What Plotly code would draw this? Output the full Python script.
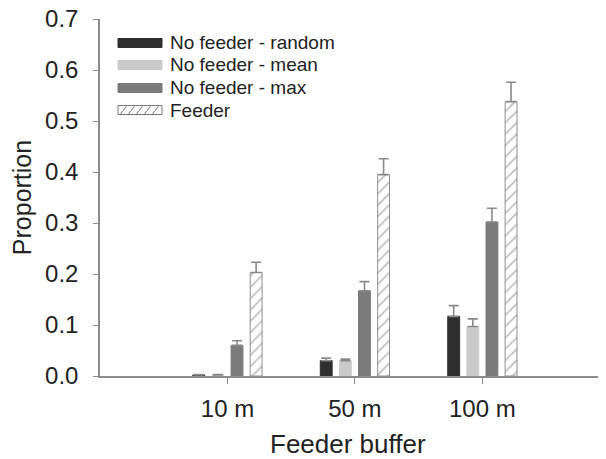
import plotly.graph_objects as go

categories = ["10 m", "50 m", "100 m"]
series_names = ["No feeder - random", "No feeder - mean", "No feeder - max", "Feeder"]
random_vals = [0.002, 0.030, 0.117]
random_err = [0.001, 0.005, 0.021]
mean_vals = [0.002, 0.030, 0.097]
mean_err = [0.001, 0.003, 0.015]
max_vals = [0.060, 0.167, 0.302]
max_err = [0.009, 0.018, 0.027]
feeder_vals = [0.203, 0.395, 0.538]
feeder_err = [0.020, 0.031, 0.038]
y_ticks = [0.0, 0.1, 0.2, 0.3, 0.4, 0.5, 0.6, 0.7]

# The page body adds an 8px offset, so the figure is drawn 8px smaller
OFF = 8
W, H = 606 - OFF, 459 - OFF
L, R, T, B = 100 - OFF, 0, 19 - OFF, 83
PW, PH = W - L - R, H - T - B

FONT = "Liberation Sans, Arial, sans-serif"
TXT = "#222222"
AX = "#8c8c8c"
ERR = "#8a8a8a"

fills = ["#2e2e2e", "#cacaca", "#7b7b7b", "white"]
values = [random_vals, mean_vals, max_vals, feeder_vals]
errs = [random_err, mean_err, max_err, feeder_err]

fig = go.Figure()
xs = list(range(len(categories)))
for i, name in enumerate(series_names):
    marker = dict(color=fills[i], line=dict(color=fills[i] if i < 3 else "#8f8f8f", width=1))
    if i == 3:
        marker["pattern"] = dict(shape="/", fgcolor="#7a7a7a", bgcolor="white", size=8, solidity=0.2)
    fig.add_trace(go.Bar(
        x=xs, y=values[i], name=name, marker=marker, showlegend=False,
        error_y=dict(type="data", array=errs[i], arrayminus=[0] * len(errs[i]), symmetric=False,
                     color=ERR, thickness=1.6, width=5),
    ))

def px2x(px):
    return (px - OFF - L) / PW

def py2y(py):
    return (H - B - (py - OFF)) / PH

shapes = []
annotations = []
row_y = [43, 65, 88, 110]
sx0, sx1 = 118, 162
for i, name in enumerate(series_names):
    cy = row_y[i]
    y0, y1 = cy - 4.5, cy + 4.5
    if i < 3:
        shapes.append(dict(type="rect", xref="paper", yref="paper",
                           x0=px2x(sx0), x1=px2x(sx1), y0=py2y(y1), y1=py2y(y0),
                           fillcolor=fills[i], line=dict(color=fills[i], width=1)))
    else:
        shapes.append(dict(type="rect", xref="paper", yref="paper",
                           x0=px2x(sx0), x1=px2x(sx1), y0=py2y(y1), y1=py2y(y0),
                           fillcolor="white", line=dict(color="#7a7a7a", width=1)))
        path = ""
        for k in range(6):
            xa = sx0 + 2 + k * 8
            xb = xa + 7
            if xb > sx1:
                break
            path += f"M{px2x(xa)},{py2y(y1)} L{px2x(xb)},{py2y(y0)} "
        shapes.append(dict(type="path", xref="paper", yref="paper", path=path,
                           line=dict(color="#7a7a7a", width=1)))
    annotations.append(dict(xref="paper", yref="paper", x=px2x(168), y=py2y(cy),
                            xanchor="left", yanchor="middle", text=name, showarrow=False,
                            font=dict(family=FONT, size=19, color=TXT)))

# x-axis title
annotations.append(dict(xref="paper", yref="paper", x=px2x(348), y=py2y(444),
                        xanchor="center", yanchor="middle", text="Feeder buffer", showarrow=False,
                        font=dict(family=FONT, size=26, color=TXT)))

fig.update_layout(
    width=W, height=H,
    margin=dict(l=L, r=R, t=T, b=B, autoexpand=False),
    paper_bgcolor="white", plot_bgcolor="white",
    barmode="group", bargap=0.4, bargroupgap=0.38,
    font=dict(family=FONT, color=TXT),
    shapes=shapes, annotations=annotations,
    xaxis=dict(
        tickmode="array", tickvals=xs, ticktext=categories,
        range=[-1, 2.97], showgrid=False, zeroline=False, automargin=False,
        showline=True, linecolor=AX, linewidth=1.5,
        ticks="outside", ticklen=6, tickcolor=AX, tickwidth=1.2,
        ticklabelstandoff=4,
        tickfont=dict(family=FONT, size=24, color=TXT),
    ),
    yaxis=dict(
        range=[0, 0.7001], tickmode="array", tickvals=y_ticks,
        ticktext=[f"{v:.1f}" for v in y_ticks],
        showgrid=False, zeroline=False, automargin=False,
        showline=True, linecolor=AX, linewidth=1.5,
        ticks="outside", ticklen=5, tickcolor=AX, tickwidth=1.2,
        ticklabelstandoff=10, ticklabeloverflow="allow",
        tickfont=dict(family=FONT, size=24, color=TXT),
        title=dict(text="Proportion", font=dict(family=FONT, size=25, color=TXT), standoff=6),
    ),
)

fig.write_html("out.html")
